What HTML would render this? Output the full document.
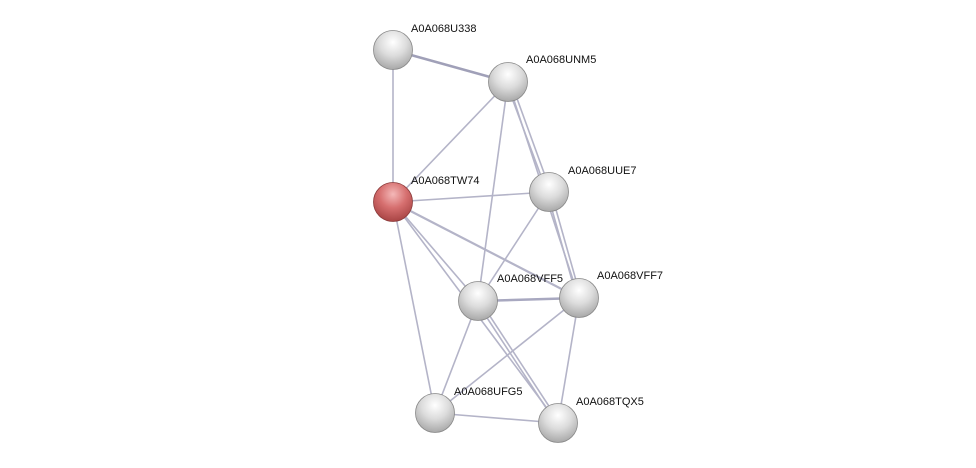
<!DOCTYPE html>
<html><head><style>html,body{margin:0;padding:0;background:#fff;}svg{display:block}</style></head><body>
<svg width="976" height="468" xmlns="http://www.w3.org/2000/svg">
<defs>
<radialGradient id="g" cx="50%" cy="30%" r="70%">
<stop offset="0" stop-color="#ffffff"/><stop offset="0.5" stop-color="#dcdcdc"/><stop offset="1" stop-color="#a8a8a8"/>
</radialGradient>
<radialGradient id="r" cx="50%" cy="30%" r="70%">
<stop offset="0" stop-color="#f4b8b8"/><stop offset="0.5" stop-color="#d66f6f"/><stop offset="1" stop-color="#a84444"/>
</radialGradient>
</defs>
<g stroke="#b4b4c8" stroke-width="1.6" fill="none">
<line x1="393" y1="50" x2="393" y2="202"/>
<line x1="393" y1="50" x2="508" y2="82" stroke="#a0a0b8" stroke-width="2.5"/>
<line x1="508" y1="82" x2="393" y2="202"/>
<line x1="506" y1="82" x2="547" y2="192"/>
<line x1="511" y1="82" x2="551" y2="192"/>
<line x1="508" y1="82" x2="478" y2="301"/>
<line x1="508" y1="82" x2="579" y2="298"/>
<line x1="393" y1="202" x2="549" y2="192"/>
<line x1="393" y1="202" x2="478" y2="301"/>
<line x1="393" y1="202" x2="579" y2="298" stroke-width="2.2"/>
<line x1="393" y1="202" x2="435" y2="413"/>
<line x1="393" y1="202" x2="558" y2="423"/>
<line x1="549" y1="192" x2="478" y2="301"/>
<line x1="547" y1="192" x2="577" y2="298"/>
<line x1="551" y1="192" x2="581" y2="298"/>
<line x1="478" y1="301" x2="579" y2="298" stroke-width="2.5" stroke="#a8a8c0"/>
<line x1="478" y1="301" x2="435" y2="413"/>
<line x1="476" y1="301" x2="556" y2="423"/>
<line x1="480" y1="301" x2="560" y2="423"/>
<line x1="579" y1="298" x2="435" y2="413"/>
<line x1="579" y1="298" x2="558" y2="423"/>
<line x1="435" y1="413" x2="558" y2="423"/>
</g>
<g stroke="#888" stroke-width="0.8">
<circle cx="393" cy="50" r="19.5" fill="url(#g)"/>
<circle cx="508" cy="82" r="19.5" fill="url(#g)"/>
<circle cx="393" cy="202" r="19.5" fill="url(#r)" stroke="#8a3a3a"/>
<circle cx="549" cy="192" r="19.5" fill="url(#g)"/>
<circle cx="478" cy="301" r="19.5" fill="url(#g)"/>
<circle cx="579" cy="298" r="19.5" fill="url(#g)"/>
<circle cx="435" cy="413" r="19.5" fill="url(#g)"/>
<circle cx="558" cy="423" r="19.5" fill="url(#g)"/>
</g>
<g font-family="Liberation Sans, sans-serif" font-size="11" fill="#111">
<text x="411" y="32">A0A068U338</text>
<text x="526" y="63">A0A068UNM5</text>
<text x="411" y="184">A0A068TW74</text>
<text x="568" y="174">A0A068UUE7</text>
<text x="497" y="282">A0A068VFF5</text>
<text x="597" y="279">A0A068VFF7</text>
<text x="454" y="395">A0A068UFG5</text>
<text x="576" y="405">A0A068TQX5</text>
</g>
</svg>
</body></html>
